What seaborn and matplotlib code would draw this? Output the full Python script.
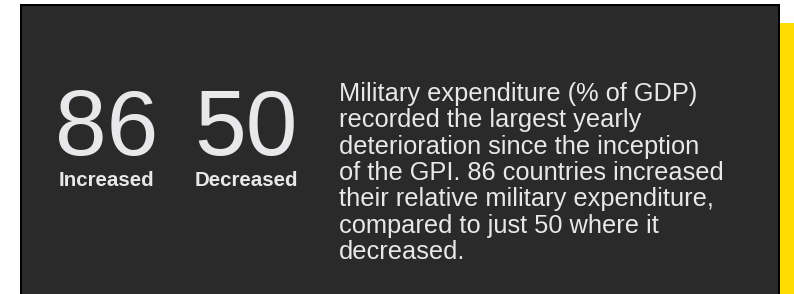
import matplotlib
matplotlib.use("Agg")
import matplotlib.pyplot as plt
import seaborn as sns
from matplotlib.patches import Rectangle

sns.set_style("white")
plt.rcParams['font.family'] = ['Liberation Sans', 'DejaVu Sans']

stat_values = ["86", "50"]
stat_labels = ["Increased", "Decreased"]
body_lines = [
    "Military expenditure (% of GDP)",
    "recorded the largest yearly",
    "deterioration since the inception",
    "of the GPI. 86 countries increased",
    "their relative military expenditure,",
    "compared to just 50 where it",
    "decreased.",
]

W, H = 794, 294
fig = plt.figure(figsize=(W / 100, H / 100), dpi=100)
ax = fig.add_axes([0, 0, 1, 1])
ax.set_xlim(0, W)
ax.set_ylim(H, 0)
ax.axis("off")
fig.patch.set_facecolor("white")

# yellow accent bar
ax.add_patch(Rectangle((780, 23), 14, H - 23, color="#ffdd00", lw=0, zorder=1))
# black border then dark panel
ax.add_patch(Rectangle((20, 4), 760, H, color="#000000", lw=0, zorder=2))
ax.add_patch(Rectangle((22, 6), 756, H, color="#2a2a2a", lw=0, zorder=3))

txt = "#e8e8ea"
centers = [106.5, 246]
for cx, v, lab in zip(centers, stat_values, stat_labels):
    ax.text(cx, 155.5, v, fontsize=67, color=txt, ha="center", va="baseline", zorder=5)
    ax.text(cx, 186, lab, fontsize=14.8, fontweight="bold", color=txt,
            ha="center", va="baseline", zorder=5)

y0, dy = 101, 26.3
for i, line in enumerate(body_lines):
    ax.text(339, y0 + i * dy, line, fontsize=18.3, color=txt,
            ha="left", va="baseline", zorder=5)

sns.despine(fig=fig, left=True, bottom=True)
fig.savefig("out.png", dpi=100, facecolor="white")
